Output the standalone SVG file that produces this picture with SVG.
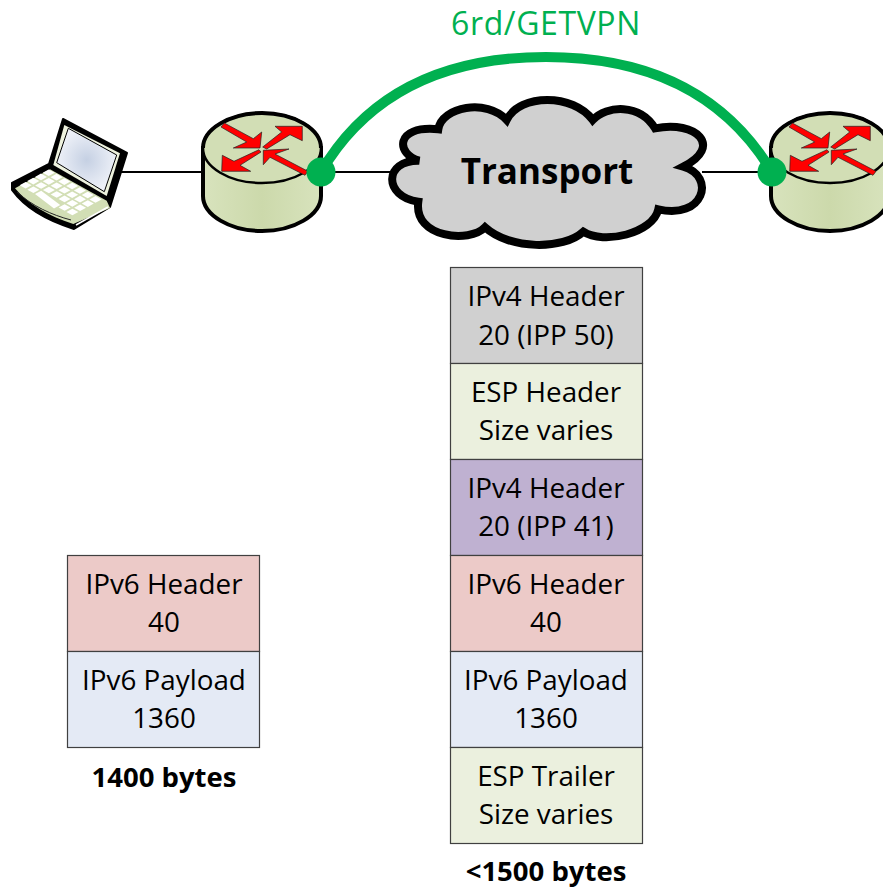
<svg xmlns="http://www.w3.org/2000/svg" width="883" height="890" viewBox="0 0 883 890">
<style>
text{font-family:"Open Sans","Noto Sans",sans-serif;text-anchor:middle;fill:#000}
.t{font-size:27.8px}
.b{font-size:27.5px;font-weight:700}
.box{stroke:#404040;stroke-width:1.2}
.grey{fill:#d0d0d0}.green{fill:#ebf0de}.purple{fill:#bfb1d1}.red{fill:#eccac8}.blue{fill:#e4eaf5}
.link{stroke:#000;stroke-width:2;fill:none}
.arrow{fill:#f00;stroke:#222;stroke-width:.7}
.dot{fill:#00b050}
.key{fill:#fff}
</style>
<defs>
<linearGradient id="body" x1="0" x2="1" y1="0" y2="0"><stop offset="0" stop-color="#d8e3bd"/><stop offset=".5" stop-color="#ccd9ab"/><stop offset="1" stop-color="#d8e3bd"/></linearGradient>
<radialGradient id="screen"><stop offset="0" stop-color="#c5d0e3"/><stop offset="1" stop-color="#eef1f8"/></radialGradient>
<path id="key" class="key" d="M-6 0L0-3.300L6 0L0 3.300Z"/>
<g id="router">
<path d="M203 148V196C203 215 230 231 262 231S321 215 321 196V148Z" fill="url(#body)" stroke="#000" stroke-width="4"/>
<ellipse cx="262" cy="148" rx="59" ry="35" fill="#d2deb5" stroke="#000" stroke-width="2.500"/>
<path d="M203 148C203 129 230 113 262 113S321 129 321 148" fill="none" stroke="#000" stroke-width="4"/>
<path class="arrow" d="M224.300 123L253.300 138.700L261.700 132L260 148L233.300 148L246.700 142L221 127Z"/>
<path class="arrow" d="M262.700 147L281.700 132L275 126.300L302.300 126.300L302.300 140.700L290 134.700L266.700 149Z"/>
<path class="arrow" d="M259 149.700L234 161.300L222.300 155.300L221.700 171.300L250.700 171.300L240 165.300L261 152Z"/>
<path class="arrow" d="M263.300 150.300L289 149L275 154L308 171.300L305 175.300L270 157.300L263.300 164.700Z"/>
</g>
</defs>
<g id="connectors">
<path class="link" d="M120 172H204"/>
<path class="link" d="M320 172H392"/>
<path class="link" d="M702 172H772"/>
<path d="M321 172C368 92 445 57 546 57S724 92 772 172" fill="none" stroke="#00b050" stroke-width="10"/>
</g>
<g id="laptop">
<path d="M63 119L127 153L110 207L74 229C45 220 25 208 12 190V183L49 164Z" fill="#000" stroke="#000" stroke-width="2" stroke-linejoin="round"/>
<path d="M64.300 125L120 153.300L106.700 196L53.300 165Z" fill="#eef2de"/>
<path d="M68.300 128.300L116.700 155L104.300 191.700L56.700 162.700Z" fill="url(#screen)" stroke="#000" stroke-width="1"/>
<path d="M50 169.300L106.700 200.700L110 208L73.300 224C48 216 28 204 15 188.300Z" fill="#d2deb5"/>
<path d="M17 192C32 206 52 215 71 220" fill="none" stroke="#222" stroke-width="1"/>
<path d="M76 225L108 207" stroke="#fff" stroke-width="1.500"/>
<use href="#key" x="48.700" y="172.700"/><use href="#key" x="56.500" y="177.150"/><use href="#key" x="64.300" y="181.600"/><use href="#key" x="72.100" y="186.050"/><use href="#key" x="79.900" y="190.500"/><use href="#key" x="87.700" y="194.950"/><use href="#key" x="95.500" y="199.400"/>
<use href="#key" x="41" y="176.900"/><use href="#key" x="48.800" y="181.350"/><use href="#key" x="56.600" y="185.800"/><use href="#key" x="64.400" y="190.250"/><use href="#key" x="72.200" y="194.700"/><use href="#key" x="80" y="199.150"/><use href="#key" x="87.800" y="203.600"/>
<use href="#key" x="33.300" y="181.100"/><use href="#key" x="41.100" y="185.550"/><use href="#key" x="48.900" y="190"/><use href="#key" x="56.700" y="194.450"/><use href="#key" x="64.500" y="198.900"/><use href="#key" x="72.300" y="203.350"/><use href="#key" x="80.100" y="207.800"/>
<use href="#key" x="25.600" y="185.300"/><use href="#key" x="33.400" y="189.750"/><use href="#key" x="64.600" y="207.550"/><use href="#key" x="72.400" y="212"/>
<path class="key" d="M41.200 190.700L35 194.100L54 208.400L60.200 205Z"/>
</g>
<g id="router-left"><use href="#router"/></g>
<g id="router-right"><use href="#router" x="568"/></g>
<g id="cloud">
<path d="M419.300 160.700C396.700 155 393.300 125 438.300 129.300C441.700 106.700 486.700 98.300 506.700 120C520 93.300 573.300 93.300 592.700 120C606.700 105 640 103.300 655 128.300C696.700 120 723.300 146.700 683.300 166.700C716.700 176.700 703.300 220 658.300 209.300C653.300 233.300 603.300 245 583.300 231.700C563.300 250 510 250 485 227.300C470 243.300 413.300 238.300 418.300 201.700C383.300 196.700 383.300 160 419.300 160.700Z" fill="#d0d0d0" stroke="#000" stroke-width="8"/>
<text x="547" y="184" style="font-size:35px;font-weight:700">Transport</text>
</g>
<g id="dot-left"><circle class="dot" cx="321" cy="172" r="14.500"/></g>
<g id="dot-right"><circle class="dot" cx="772" cy="172" r="14.500"/></g>
<g id="label-6rd"><text x="546" y="34.500" style="font-size:32px;letter-spacing:.6px;fill:#00b050">6rd/GETVPN</text></g>
<g id="stack-left">
<rect class="box red" x="67.500" y="555.500" width="192" height="96"/>
<text class="t" x="164" y="594">IPv6 Header</text><text class="t" x="164" y="632">40</text>
<rect class="box blue" x="67.500" y="651.500" width="192" height="96"/>
<text class="t" x="164" y="690">IPv6 Payload</text><text class="t" x="164" y="728">1360</text>
</g>
<g id="stack-right">
<rect class="box grey" x="450.500" y="267.500" width="192" height="96"/>
<text class="t" x="546" y="306">IPv4 Header</text><text class="t" x="546" y="345">20 (IPP 50)</text>
<rect class="box green" x="450.500" y="363.500" width="192" height="96"/>
<text class="t" x="546" y="402">ESP Header</text><text class="t" x="546" y="440">Size varies</text>
<rect class="box purple" x="450.500" y="459.500" width="192" height="96"/>
<text class="t" x="546" y="498">IPv4 Header</text><text class="t" x="546" y="536">20 (IPP 41)</text>
<rect class="box red" x="450.500" y="555.500" width="192" height="96"/>
<text class="t" x="546" y="594">IPv6 Header</text><text class="t" x="546" y="632">40</text>
<rect class="box blue" x="450.500" y="651.500" width="192" height="96"/>
<text class="t" x="546" y="690">IPv6 Payload</text><text class="t" x="546" y="728">1360</text>
<rect class="box green" x="450.500" y="747.500" width="192" height="96"/>
<text class="t" x="546" y="786">ESP Trailer</text><text class="t" x="546" y="824">Size varies</text>
</g>
<g id="caption-left"><text class="b" x="164" y="787">1400 bytes</text></g>
<g id="caption-right"><text class="b" x="546" y="881">&lt;1500 bytes</text></g>
</svg>
